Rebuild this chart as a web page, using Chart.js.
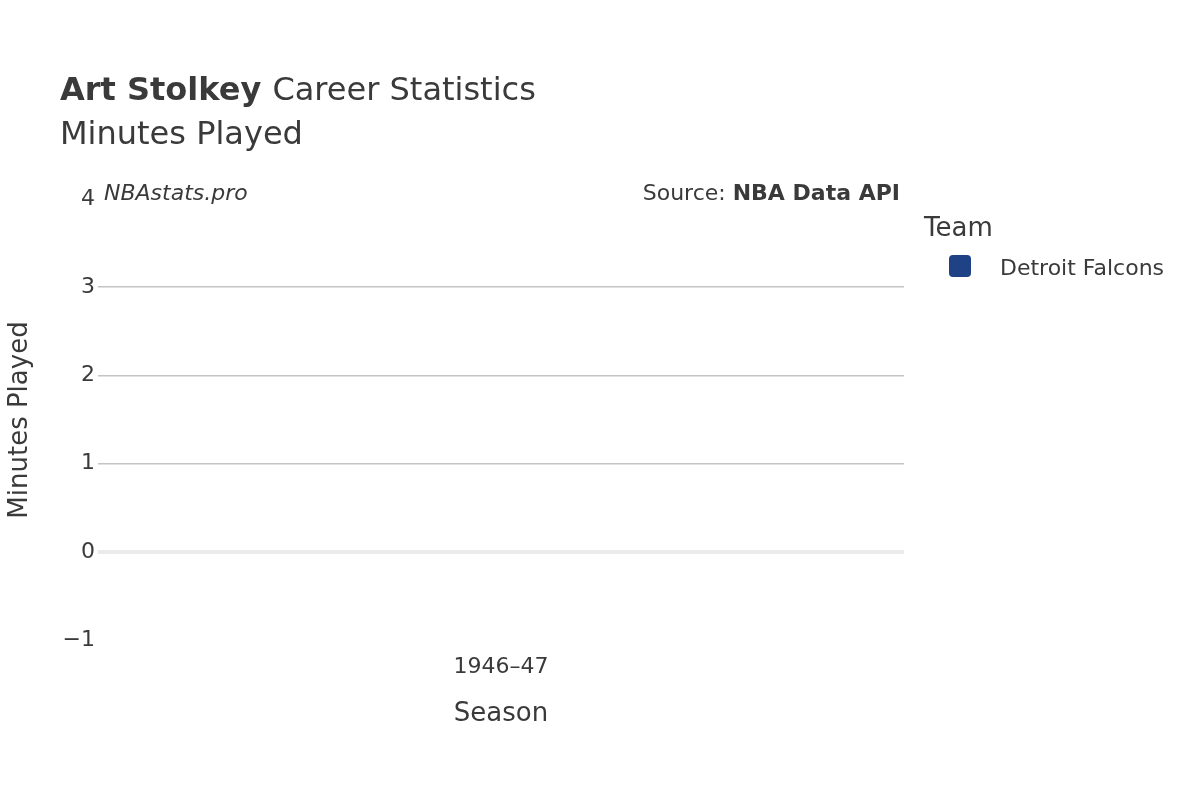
<!DOCTYPE html>
<html><head><meta charset="utf-8">
<script src="https://cdn.jsdelivr.net/npm/chart.js@4"></script>
<style>body{margin:0;background:#fff}#wrap{width:1200px;height:800px}</style>
</head><body><div id="wrap"><canvas id="c" width="1200" height="800"></canvas></div>
<script>
const seasons = ['1946–47'];
const minutesPlayed = [0];
const teamName = 'Detroit Falcons';
const teamColor = '#1f4287';
const yTicks = [-1, 0, 1, 2, 3, 4];

const FONT = '"DejaVu Sans", sans-serif';
const TXT = '#3a3a3a';

// titles, watermark, axis titles and legend drawn by hand
const decor = {
  id: 'decor',
  afterDraw(chart) {
    const c = chart.ctx;
    c.save();
    c.fillStyle = TXT;
    c.textBaseline = 'alphabetic';
    c.font = 'bold 32px ' + FONT;
    c.fillText('Art Stolkey', 60, 100);
    const w = c.measureText('Art Stolkey ').width;
    c.font = '32px ' + FONT;
    c.fillText('Career Statistics', 60 + w, 100);
    c.fillText('Minutes Played', 60, 144);

    c.font = 'italic 22px ' + FONT;
    c.fillText('NBAstats.pro', 104, 200);
    c.textAlign = 'right';
    c.font = 'bold 22px ' + FONT;
    c.fillText('NBA Data API', 900, 200);
    const bw = c.measureText('NBA Data API').width;
    c.font = '22px ' + FONT;
    c.fillText('Source: ', 900 - bw, 200);

    c.textAlign = 'center';
    c.font = '26px ' + FONT;
    c.fillText('Season', 501, 721);
    c.save();
    c.translate(27, 420);
    c.rotate(-Math.PI / 2);
    c.fillText('Minutes Played', 0, 0);
    c.restore();

    c.textAlign = 'left';
    c.font = '26px ' + FONT;
    c.fillText('Team', 924, 236);
    c.fillStyle = teamColor;
    c.beginPath();
    c.roundRect(949, 255, 22, 22, 4);
    c.fill();
    c.fillStyle = TXT;
    c.font = '22px ' + FONT;
    c.fillText(teamName, 1000, 275);
    c.restore();
  }
};

new Chart(document.getElementById('c'), {
  type: 'bar',
  data: {
    labels: seasons,
    datasets: [{ label: teamName, data: minutesPlayed, backgroundColor: teamColor }]
  },
  options: {
    responsive: false,
    animation: false,
    layout: { padding: { top: 199, right: 296, bottom: 0, left: 0 } },
    plugins: { legend: { display: false }, tooltip: { enabled: false } },
    scales: {
      x: {
        grid: { display: false },
        border: { display: false },
        ticks: { color: TXT, font: { family: FONT, size: 22 }, padding: 6 },
        afterFit: s => { s.height = 160; }
      },
      y: {
        min: -1, max: 4,
        afterBuildTicks: s => { s.ticks = yTicks.map(v => ({ value: v })); },
        afterFit: s => { s.width = 98; },
        border: { display: false },
        grid: {
          drawTicks: false,
          color: ctx => ctx.tick.value === 0 ? '#ebebeb' : (ctx.tick.value === 4 || ctx.tick.value === -1 ? 'rgba(0,0,0,0)' : '#c4c4c4'),
          lineWidth: ctx => ctx.tick.value === 0 ? 4 : 1.5
        },
        ticks: {
          color: TXT, font: { family: FONT, size: 22 }, padding: 3,
          callback: v => v < 0 ? '−' + Math.abs(v) : String(v)
        }
      }
    }
  },
  plugins: [decor]
});
</script></body></html>
